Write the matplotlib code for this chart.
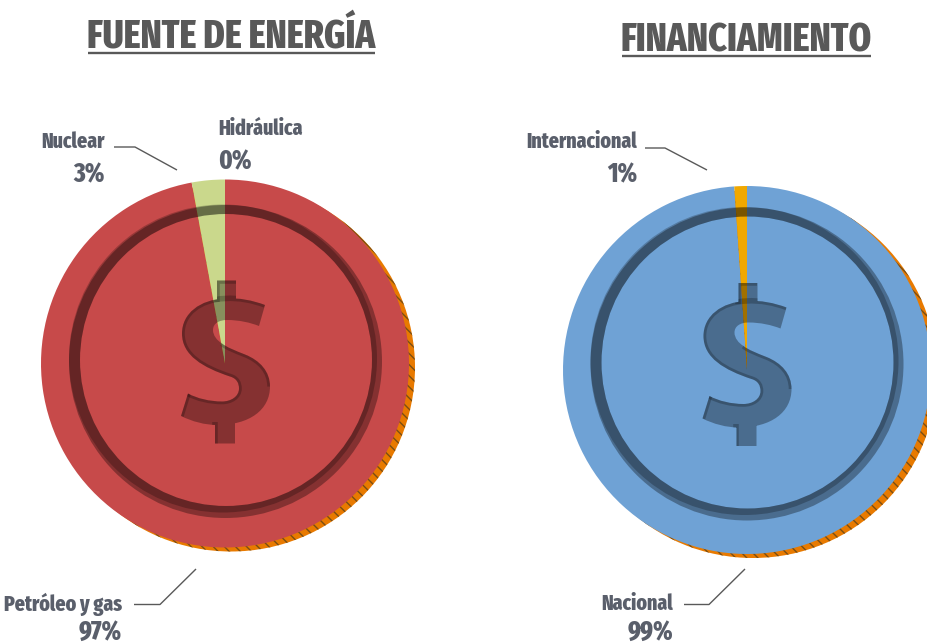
import matplotlib
matplotlib.use('Agg')
import matplotlib.pyplot as plt
import numpy as np
from matplotlib.patches import Circle, PathPatch
from matplotlib.path import Path

# data
energy_names = ['Petróleo y gas', 'Hidráulica', 'Nuclear']
energy_values = [97.1, 0, 2.9]
energy_colors = ['#C74A4A', '#9BBB59', '#CAD88C']
money_names = ['Nacional', 'Internacional']
money_values = [98.9, 1.1]
money_colors = ['#6FA2D5', '#F0A800']

W, H = 927, 643
TEXT = '#5A5F6B'
plt.rcParams['font.family'] = ['Fira Sans Extra Condensed', 'Roboto', 'Liberation Sans', 'DejaVu Sans']
plt.rcParams['hatch.linewidth'] = 1.0

fig = plt.figure(figsize=(W / 100, H / 100), dpi=100)

back = fig.add_axes([0, 0, 1, 1], zorder=0)
over = fig.add_axes([0, 0, 1, 1], zorder=2)
for a in (back, over):
    a.set_xlim(0, W)
    a.set_ylim(H, 0)
    a.axis('off')
    a.patch.set_alpha(0)


def draw_pie(cx, cy, r, values, colors):
    ax = fig.add_axes([(cx - r) / W, 1 - (cy + r) / H, 2 * r / W, 2 * r / H], zorder=1)
    ax.pie(values, colors=colors, startangle=90, counterclock=False, radius=1)
    ax.set_xlim(-1, 1)
    ax.set_ylim(-1, 1)
    ax.axis('off')


# outline of the dollar S, px relative to the middle of the coin
S_PTS = [(40, -58.5),
         (28, -63), (14, -66), (0, -65),
         (-25, -64), (-43, -50), (-43, -30),
         (-43, -8), (-22, 4), (5, 13),
         (12, 15), (14, 20), (14, 25),
         (14, 33), (6, 38), (-3, 38),
         (-15, 38), (-28, 35), (-37, 30)]
S_PTS2 = [(-44, 52.5),
          (-33, 58), (-20, 61.5), (-8, 61.5),
          (25, 61.5), (45, 46), (45, 23),
          (45, 8), (35, -3), (20, -9),
          (10, -13), (2, -16), (-3, -20),
          (-8, -23), (-12, -28), (-12, -33.5),
          (-12, -40), (-6, -43.5), (2, -43.5),
          (14, -43.5), (25, -41), (34, -37.5)]


def moved(pts, cx, cy):
    return [(cx + x, cy + y) for x, y in pts]


def curve(pts, cx, cy):
    return Path(moved(pts, cx, cy), [Path.MOVETO] + [Path.CURVE4] * (len(pts) - 1))


def rect(x0, y0, x1, y1, cx, cy):
    pts = [(x0, y0), (x0, y1), (x1, y1), (x1, y0), (x0, y0)]
    return Path(moved(pts, cx, cy), [Path.MOVETO, Path.LINETO, Path.LINETO, Path.LINETO, Path.CLOSEPOLY])


def band(c1, r1, c2, r2):
    # ring between two circles that need not share a centre
    outer = Path.circle(c1, r1)
    inner = Path.circle(c2, r2)
    v = inner.vertices[:-1][::-1]
    v = np.vstack([v, v[0]])
    return Path.make_compound_path(outer, Path(v, inner.codes))


def draw_coin(pie_x, pie_y, x, y):
    # hatched rim peeking out behind the pie
    back.add_patch(Circle((pie_x + 6, pie_y + 4), 184, fc='#E87A00', ec='#7A4E14', lw=0, hatch='\\\\\\'))

    # ring, x y is the centre of the coin
    rx, ry = x + 0.5, y - 2
    over.add_patch(PathPatch(band((rx, ry), 156.5, (rx + 0.5, ry - 1.5), 146), fc='black', alpha=0.33, lw=0))
    over.add_patch(PathPatch(band((rx - 2.5, ry - 3), 154, (rx + 0.5, ry - 1.5), 146), fc='black', alpha=0.24, lw=0))

    # dollar sign
    verts = moved(S_PTS + S_PTS2, x, y) + [(x + 40, y - 58.5)]
    codes = [Path.MOVETO] + [Path.CURVE4] * (len(S_PTS) - 1) + [Path.LINETO] + [Path.CURVE4] * (len(S_PTS2) - 1) + [Path.CLOSEPOLY]
    body = Path.make_compound_path(Path(verts, codes), rect(-8, -83, 11, -62, x, y), rect(-10, 58, 10, 80, x, y))
    patch = PathPatch(body, fc='black', alpha=0.33, lw=0)
    over.add_patch(patch)

    # darker bevel on the upper left edges, cut to the sign
    edges = [curve(S_PTS[:10], x, y),
             curve(S_PTS[9:], x, y),
             curve(S_PTS2[6:13], x, y),
             Path(moved([(-37, 30), (-44, 52.5)], x, y)),
             Path(moved([(-8, -62), (-8, -83), (11, -83)], x, y)),
             Path(moved([(-10, 58), (-10, 80)], x, y))]
    for e in edges:
        d = PathPatch(e, fc='none', ec='black', alpha=0.22, lw=4, capstyle='butt')
        over.add_patch(d)
        d.set_clip_path(body, over.transData)


def label(x, y, name, value, base, ha='right'):
    over.text(x, y, name, ha=ha, va='center', fontsize=15.5, fontweight=800, color=TEXT)
    over.text(x, base, '%d%%' % round(value), ha=ha, va='baseline', fontsize=19, fontweight=800, color=TEXT)


def leader(xs, ys):
    over.plot(xs, ys, color='#595959', lw=1.0, solid_capstyle='butt')


draw_pie(225, 363.5, 184, energy_values, energy_colors)
draw_pie(747, 370, 184, money_values, money_colors)
draw_coin(225, 363.5, 225, 363.5)
draw_coin(747, 370, 746.5, 366)

over.text(231.5, 48, 'FUENTE DE ENERGÍA', ha='center', va='baseline', fontsize=28, fontweight=800, color='#595959')
over.plot([88, 375], [52.5, 52.5], color='#595959', lw=1.7, solid_capstyle='butt')
over.text(746.5, 51, 'FINANCIAMIENTO', ha='center', va='baseline', fontsize=28, fontweight=800, color='#595959')
over.plot([622, 871], [55.5, 55.5], color='#595959', lw=1.7, solid_capstyle='butt')

label(122, 604, energy_names[0], energy_values[0], 640)
label(218, 129, energy_names[1], energy_values[1], 169, ha='left')
label(105, 142, energy_names[2], energy_values[2], 182)
label(673, 604, money_names[0], money_values[0], 640)
label(637, 142, money_names[1], money_values[1], 182)

leader([114, 135, 177], [147, 147, 170])
leader([134, 160, 196], [604.5, 604.5, 569])
leader([645, 665, 707], [148, 148, 170])
leader([684, 709, 745], [604.5, 604.5, 569])

fig.savefig('out.png', dpi=100)
